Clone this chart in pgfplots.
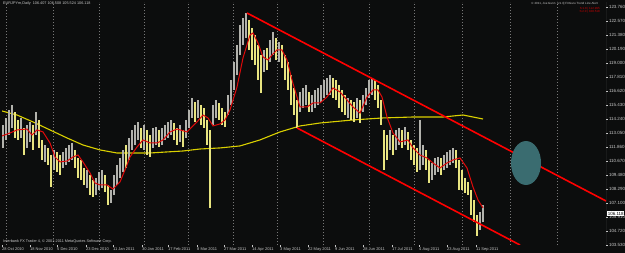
\documentclass[border=0pt]{standalone}
\usepackage{pgfplots}
\pgfplotsset{compat=1.18}
\usepackage{pgfplotstable}
\usepackage{fontspec}
\setmainfont{Liberation Sans}
\definecolor{bg}{RGB}{12,13,13}
\definecolor{barg}{RGB}{178,178,172}
\definecolor{bary}{RGB}{232,228,128}
\definecolor{maY}{RGB}{218,208,0}
\definecolor{maR}{RGB}{225,10,10}
\definecolor{tl}{RGB}{255,0,0}
\definecolor{gridc}{RGB}{120,120,120}
\definecolor{lab}{RGB}{200,200,200}
\definecolor{ell}{RGB}{58,108,112}

\pgfplotstableread{
x h l
3 113.73 111.78
6 114.33 112.46
9 115.01 112.88
12 115.43 113.48
21 114.33 112.63
27 113.73 111.78
30 113.99 112.29
36 114.84 112.88
45 112.03 110.59
54 111.61 109.91
63 111.44 110.08
66 111.78 110.33
69 112.03 110.59
72 112.20 110.76
87 109.91 108.38
96 109.23 107.78
99 109.74 108.21
102 109.91 108.38
111 108.21 107.10
114 109.48 107.78
117 110.33 108.63
120 110.93 109.23
123 111.61 109.74
129 112.63 110.76
132 113.31 111.61
135 113.73 112.03
138 113.99 112.46
144 113.73 111.61
153 113.48 111.78
156 113.56 112.03
162 113.48 112.03
165 113.73 112.46
168 113.99 112.63
171 114.16 112.88
180 113.73 112.29
186 114.16 112.63
189 115.01 113.48
192 116.03 114.33
198 115.86 114.33
213 115.43 113.73
216 115.86 114.33
228 116.28 114.58
231 117.56 115.43
234 119.09 116.71
237 120.53 117.98
240 122.23 119.68
243 122.83 120.53
246 123.25 121.13
264 120.11 118.24
270 120.96 119.09
273 121.64 119.68
279 120.79 119.09
300 116.54 114.84
303 116.88 115.18
306 117.13 115.43
312 116.28 114.84
315 116.71 115.18
318 116.88 115.43
321 117.13 115.69
324 117.56 116.03
327 117.73 116.28
330 117.98 116.28
348 116.03 114.33
357 116.03 114.33
363 116.28 114.84
366 116.88 115.43
369 117.56 116.03
372 117.73 116.28
390 113.31 111.61
396 113.31 111.61
399 113.48 112.03
405 113.56 112.03
420 114.16 109.91
423 112.03 110.33
432 110.50 109.06
435 110.93 109.48
438 111.01 109.74
444 111.18 109.91
447 111.44 110.08
450 111.61 110.33
453 111.78 110.50
480 106.34 104.81
483 106.93 105.49
}\gbars

\pgfplotstableread{
x h l
15 114.84 112.63
18 114.16 112.46
24 113.48 111.18
33 113.73 111.61
39 114.16 111.78
42 112.46 110.76
48 111.78 110.33
51 111.18 108.46
57 111.44 109.74
60 111.18 109.48
75 111.61 110.08
78 110.93 109.23
81 110.76 109.06
84 110.08 108.63
90 109.48 107.78
93 109.06 107.61
105 109.48 108.04
108 108.63 106.93
126 112.03 110.08
141 113.48 111.78
147 113.31 111.18
150 112.88 111.01
159 113.31 111.86
174 113.90 112.46
177 113.48 112.03
183 113.31 111.86
195 115.69 113.99
201 115.43 113.73
204 115.18 113.48
207 114.16 112.03
210 113.31 106.68
219 115.60 114.16
222 115.18 113.73
225 114.84 113.56
249 122.66 120.11
252 121.98 119.26
255 121.38 118.83
258 120.53 117.56
261 119.68 116.45
267 120.28 118.41
276 121.13 119.26
282 120.53 118.58
285 119.68 117.56
288 119.09 116.71
291 117.98 115.43
294 116.88 114.58
297 115.86 113.48
309 116.54 114.84
333 117.73 116.03
336 117.56 115.86
339 117.13 115.18
342 116.71 114.84
345 116.28 114.58
351 115.86 114.16
354 115.69 113.99
360 115.86 113.90
375 117.56 115.86
378 117.13 115.18
381 115.86 113.73
384 113.31 109.91
387 112.88 110.76
393 112.88 111.18
402 113.31 111.78
408 113.14 111.61
411 112.46 110.76
414 112.03 110.33
417 111.78 109.74
426 111.61 109.91
429 110.76 108.80
441 110.93 109.48
456 111.61 110.08
459 110.76 108.21
462 109.91 108.21
465 109.23 107.95
468 108.89 107.78
471 108.21 106.08
474 107.36 105.49
477 106.08 104.30
}\ybars

\begin{document}
\begin{tikzpicture}
\useasboundingbox (0,0) rectangle (625bp,253bp);
\fill[bg] (0,0) rectangle (625bp,253bp);
\begin{axis}[
  at={(2bp,8bp)}, anchor=south west,
  scale only axis, width=604bp, height=243bp,
  xmin=2, xmax=606, ymin=103.53, ymax=124.185,
  axis line style={draw=none},
  xtick pos=bottom, ytick pos=right,
  yticklabel pos=right,
  xtick={2,30,57,86,113,142,168,197,224,252,280,308,335,363,392,419,447,476},
  xticklabels={28 Oct 2010,18 Nov 2010,5 Dec 2010,23 Dec 2010,11 Jan 2011,30 Jan 2011,17 Feb 2011,8 Mar 2011,27 Mar 2011,14 Apr 2011,3 May 2011,22 May 2011,9 Jun 2011,28 Jun 2011,17 Jul 2011,4 Aug 2011,23 Aug 2011,11 Sep 2011},
  xticklabel style={anchor=north west, font=\fontsize{4}{4.5}\selectfont, text=lab, inner sep=0.5bp, xshift=-0.5bp, yshift=-0.5bp},
  ytick={123.76,122.57,121.38,120.19,119.00,117.81,116.62,115.43,114.24,113.05,111.86,110.67,109.48,108.29,107.10,105.91,104.72,103.53},
  yticklabels={123.760,122.570,121.380,120.190,119.000,117.810,116.620,115.430,114.240,113.050,111.860,110.670,109.480,108.290,107.100,105.910,104.720,103.530},
  yticklabel style={anchor=west, font=\fontsize{4.5}{5}\selectfont, text=lab, inner sep=0.5bp, xshift=0.5bp},
  major tick length=1.8bp,
  tick style={draw=lab, line width=0.5bp},
  tick align=outside,
  extra x ticks={6,53,99,144,188,233,277,323,369,414,462,510,557},
  extra x tick labels={},
  extra x tick style={grid=major, major tick length=0pt, major grid style={draw=gridc, line width=0.6bp, dash pattern=on 1.5bp off 1.5bp}},
  clip=true,
]
% 200-period moving average (yellow)
\addplot[maY, line width=1.1bp] coordinates {(2,114.92) (17,114.58) (33,113.99) (50,113.31) (67,112.63) (83,112.03) (100,111.61) (117,111.35) (133,111.35) (150,111.35) (167,111.44) (183,111.52) (200,111.69) (220,111.78) (240,111.95) (260,112.46) (280,113.14) (300,113.65) (320,113.90) (353,114.16) (383,114.33) (413,114.41) (443,114.41) (463,114.58) (473,114.41) (483,114.24)};
% price bars
\addplot[draw=none, mark=none, error bars/.cd, y dir=both, y explicit, error mark=none, error bar style={draw=barg, line width=1.1bp, solid}]
  table[x=x, y expr=(\thisrow{h}+\thisrow{l})/2, y error plus expr=(\thisrow{h}-\thisrow{l})/2, y error minus expr=(\thisrow{h}-\thisrow{l})/2] {\gbars};
\addplot[draw=none, mark=none, error bars/.cd, y dir=both, y explicit, error mark=none, error bar style={draw=bary, line width=1.1bp, solid}]
  table[x=x, y expr=(\thisrow{h}+\thisrow{l})/2, y error plus expr=(\thisrow{h}-\thisrow{l})/2, y error minus expr=(\thisrow{h}-\thisrow{l})/2] {\ybars};
% short moving average (red)
\addplot[maR, line width=1bp] coordinates {(2,112.80) (10,113.05) (17,113.31) (27,113.39) (32,112.88) (37,113.31) (43,113.14) (50,112.20) (55,111.01) (60,110.59) (67,110.67) (73,111.01) (78,111.18) (83,110.59) (90,109.65) (95,108.80) (100,108.63) (107,108.63) (113,108.29) (120,108.89) (125,109.91) (130,111.01) (137,111.86) (143,112.46) (150,112.20) (157,112.20) (163,112.46) (170,113.14) (177,113.39) (187,113.14) (197,113.99) (203,114.58) (208,114.33) (213,113.65) (220,113.82) (225,114.16) (230,115.01) (237,116.96) (243,119.43) (250,121.38) (253,121.55) (258,120.70) (263,119.51) (268,119.26) (272,119.68) (277,120.11) (282,120.11) (287,119.26) (292,117.56) (297,116.11) (300,115.26) (307,115.26) (313,115.60) (320,115.60) (327,116.11) (333,116.88) (340,116.54) (347,115.86) (353,115.26) (360,114.75) (367,116.11) (373,116.71) (378,116.71) (382,116.11) (387,114.41) (393,113.05) (400,112.29) (408,112.46) (413,111.78) (420,111.18) (427,110.93) (433,110.50) (440,110.08) (447,110.50) (453,110.76) (460,110.93) (467,110.08) (473,108.46) (478,107.36) (483,106.68)};
% trend channel
\addplot[tl, line width=1.6bp] coordinates {(247,123.25) (606,107.27)};
\addplot[tl, line width=1.6bp] coordinates {(297,113.48) (520,103.53)};
\fill[ell] (axis cs:526,110.50) ellipse [x radius=15bp, y radius=22bp];
\draw[gridc, line width=0.6bp] (rel axis cs:0,0) -- (rel axis cs:1,0) -- (rel axis cs:1,1);
\end{axis}
\node[anchor=west, fill=white, text=black, inner sep=0.6bp, font=\fontsize{4.5}{5}\selectfont] at (607bp,39.5bp) {106.118};
\node[anchor=north west, text=lab, inner sep=0pt, font=\fontsize{3.8}{4}\selectfont] at (3bp,251bp) {EURJPYm,Daily\ \ 106.407 106.508 105.524 106.118};
\node[anchor=north east, text=lab, inner sep=0pt, font=\fontsize{3}{3.5}\selectfont] at (598bp,251bp) {© 2011, Joe Gunn\ \ [v1.3] FXGuru Trend Line Alert};
\node[anchor=north east, text=tl!80!black, inner sep=0pt, font=\fontsize{3}{3.5}\selectfont, align=right] at (600bp,246bp) {S:1.8 | 112.995\\S:2.0 | 108.518};
\node[anchor=south west, text=lab, inner sep=0pt, font=\fontsize{3.8}{4}\selectfont] at (3bp,9.5bp) {Interbank FX Trader 4, © 2001-2011 MetaQuotes Software Corp.};
\end{tikzpicture}
\end{document}
